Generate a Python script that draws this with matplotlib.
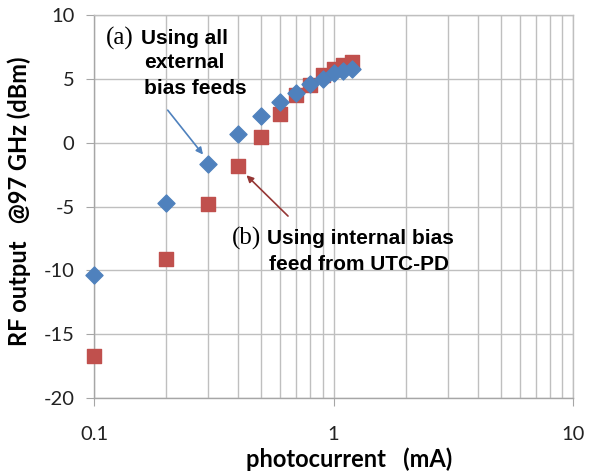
import matplotlib
matplotlib.use("Agg")
import matplotlib.pyplot as plt
from matplotlib.ticker import LogLocator, NullFormatter, FixedLocator, FixedFormatter

photocurrent = [0.1, 0.2, 0.3, 0.4, 0.5, 0.6, 0.7, 0.8, 0.9, 1.0, 1.1, 1.2]
external_bias = [-10.4, -4.7, -1.7, 0.65, 2.05, 3.2, 3.9, 4.6, 5.0, 5.45, 5.6, 5.75]
internal_bias = [-16.7, -9.15, -4.8, -1.85, 0.45, 2.25, 3.7, 4.5, 5.3, 5.8, 6.1, 6.3]
x_ticks = [0.1, 1, 10]
x_tick_labels = ["0.1", "1", "10"]
y_ticks = [-20, -15, -10, -5, 0, 5, 10]

blue = "#4F81BD"
red = "#C0504D"
grid_c = "#BFBFBF"
axis_font = "Lato"
note_font = "Liberation Sans"

fig = plt.figure(figsize=(5.89, 4.72), dpi=100)
ax = fig.add_axes([94/589, 1 - 398/472, (573-94)/589, (398-15)/472])
ax.set_xscale("log")
ax.set_xlim(0.1, 10)
ax.set_ylim(-20, 10)

ax.xaxis.set_major_locator(FixedLocator(x_ticks))
ax.xaxis.set_major_formatter(FixedFormatter(x_tick_labels))
ax.xaxis.set_minor_locator(LogLocator(base=10, subs=range(2, 10)))
ax.xaxis.set_minor_formatter(NullFormatter())
ax.set_yticks(y_ticks)
ax.set_yticklabels([str(v) for v in y_ticks])
for lab in ax.get_xticklabels() + ax.get_yticklabels():
    lab.set_family(axis_font)

ax.grid(True, which="major", color=grid_c, lw=1.0)
ax.grid(True, which="minor", axis="x", color=grid_c, lw=1.0)
for s in ax.spines.values():
    s.set_color(grid_c)
    s.set_linewidth(1.0)
ax.spines["left"].set_color("#A6A6A6")
ax.spines["bottom"].set_color("#A6A6A6")
ax.tick_params(axis="both", which="major", direction="out", length=6, color="#A6A6A6",
               labelsize=14.5, labelcolor="#222222")
ax.tick_params(axis="y", which="major", pad=8)
ax.tick_params(axis="x", which="major", pad=14)
ax.tick_params(axis="x", which="minor", length=0)

ax.scatter(photocurrent, internal_bias, marker="s", s=110, color=red, zorder=3, clip_on=False)
ax.scatter(photocurrent, external_bias, marker="D", s=75, color=blue, zorder=4, clip_on=False)

ax.set_xlabel("photocurrent   (mA)", fontsize=17, fontweight="bold", family=axis_font)
ax.set_ylabel("RF output   @97 GHz (dBm)", fontsize=17, fontweight="bold", family=axis_font)
ax.xaxis.set_label_coords(0.532, -0.128)
ax.yaxis.set_label_coords(-0.132, 0.515)

# annotations (a)
fig.text(106/589, 1 - 38/472, "(a)", fontsize=18, family="Liberation Serif", va="center", ha="left")
fig.text(141/589, 1 - 38/472, "Using all", fontsize=15, fontweight="bold", family=note_font, va="center", ha="left")
fig.text(144/589, 1 - 63/472, "external", fontsize=15, fontweight="bold", family=note_font, va="center", ha="left")
fig.text(144/589, 1 - 88/472, "bias feeds", fontsize=15, fontweight="bold", family=note_font, va="center", ha="left")
ax.annotate("", xy=(0.29, -1.1), xycoords="data",
            xytext=(166/589, 1 - 108/472), textcoords="figure fraction",
            arrowprops=dict(arrowstyle="-|>", color=blue, lw=1.2, mutation_scale=10))

# annotations (b)
fig.text(232/589, 1 - 238/472, "(b)", fontsize=18, family="Liberation Serif", va="center", ha="left")
fig.text(267/589, 1 - 238/472, "Using internal bias", fontsize=15, fontweight="bold", family=note_font, va="center", ha="left")
fig.text(269/589, 1 - 264/472, "feed from UTC-PD", fontsize=15, fontweight="bold", family=note_font, va="center", ha="left")
ax.annotate("", xy=(0.425, -2.4), xycoords="data",
            xytext=(290/589, 1 - 218/472), textcoords="figure fraction",
            arrowprops=dict(arrowstyle="-|>", color="#953735", lw=1.2, mutation_scale=10))

fig.savefig("out.png", dpi=100)
